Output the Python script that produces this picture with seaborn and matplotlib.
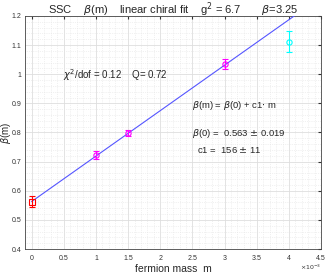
import numpy as np
import pandas as pd
import seaborn as sns
import matplotlib.pyplot as plt
from matplotlib.ticker import FuncFormatter, MultipleLocator

# data
mass = [0.0, 1.0e-3, 1.5e-3, 3.0e-3, 4.0e-3]
beta = [0.563, 0.722, 0.797, 1.035, 1.112]
beta_err = [0.019, 0.014, 0.010, 0.018, 0.035]
point_colors = ['red', 'magenta', 'magenta', 'magenta', 'cyan']
point_markers = ['s', 'o', 'o', 'o', 'o']

# linear fit parameters
b0 = 0.563
c1 = 156.0
fit_mass = [0.0, 4.5e-3]

sns.set_style('white')
plt.rcParams['font.family'] = ['Liberation Sans', 'DejaVu Sans']
plt.rcParams['mathtext.fontset'] = 'dejavusans'

fig = plt.figure(figsize=(3.27, 2.74), dpi=100)
ax = fig.add_axes([0.077, 0.091, 0.905, 0.851])

# fit line
df_fit = pd.DataFrame({'m': fit_mass})
df_fit['beta'] = b0 + c1 * df_fit['m']
sns.lineplot(data=df_fit, x='m', y='beta', color='#5555ff', lw=0.8, ax=ax, zorder=3)

# data points with error bars
for m, b, e, c, mk in zip(mass, beta, beta_err, point_colors, point_markers):
    ax.errorbar(m, b, yerr=e, fmt=mk, mfc='none', mec=c, ecolor=c, ms=3.8,
                mew=0.8, elinewidth=0.8, capsize=2, capthick=0.8, zorder=4)

ax.set_xlim(-0.1e-3, 4.5e-3)
ax.set_ylim(0.4, 1.2)
ax.xaxis.set_major_locator(MultipleLocator(0.5e-3))
ax.xaxis.set_minor_locator(MultipleLocator(0.1e-3))
ax.yaxis.set_major_locator(MultipleLocator(0.1))
ax.yaxis.set_minor_locator(MultipleLocator(0.02))
ax.xaxis.set_major_formatter(FuncFormatter(lambda v, p: '%g' % round(v * 1e3, 3)))
ax.yaxis.set_major_formatter(FuncFormatter(lambda v, p: '%g' % round(v, 3)))

ax.grid(which='major', color='#dedede', lw=0.6)
ax.grid(which='minor', color='#e4e4e4', lw=0.5, ls=':')
ax.tick_params(which='both', direction='in', labelsize=5, colors='#333333',
               top=True, right=True, length=2.5)
ax.tick_params(axis='x', pad=4)
ax.tick_params(axis='y', pad=2.5)
ax.tick_params(which='minor', length=0)
for s in ax.spines.values():
    s.set_color('#444444')
    s.set_linewidth(0.6)

ax.set_xlabel('fermion mass  m', fontsize=7.5)
ax.xaxis.set_label_coords(0.5, -0.085, transform=ax.transAxes)
ax.xaxis.label.set_va('center')
ax.set_ylabel(r'$\beta$(m)', fontsize=7)
ax.yaxis.set_label_coords(-0.066, 0.5, transform=ax.transAxes)
ax.yaxis.label.set_va('center')
ax.set_title(r'SSC    $\beta$(m)    linear chiral fit    g$^2$ = 6.7       $\beta$=3.25',
             fontsize=8, pad=2)

ax.text(1.0, -0.08, r'$\times10^{-3}$', transform=ax.transAxes, fontsize=4.5,
        ha='right', va='center', color='#333333')

ax.text(0.49e-3, 0.997, r'$\chi^2$/dof = 0.12    Q= 0.72', fontsize=7, va='center')
ax.text(2.49e-3, 0.894, r'$\beta$(m) = $\beta$(0) + c1$\cdot$ m', fontsize=6.8, va='center')
ax.text(2.49e-3, 0.795, r'$\beta$(0) =  0.563 $\pm$ 0.019', fontsize=6.8, va='center')
ax.text(2.57e-3, 0.740, r'c1 =  156 $\pm$ 11', fontsize=6.8, va='center')

fig.savefig('out.png', dpi=100)
